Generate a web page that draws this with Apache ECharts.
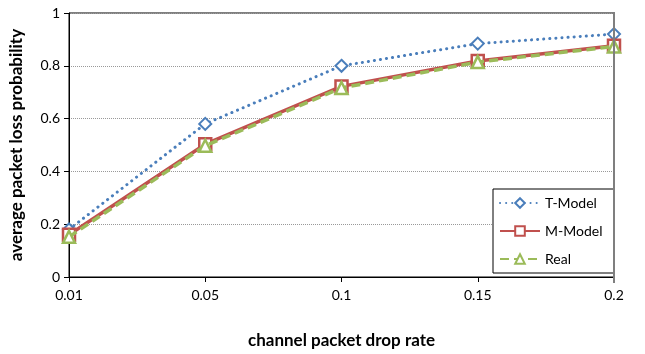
<!DOCTYPE html>
<html><head><meta charset="utf-8">
<script src="https://cdn.jsdelivr.net/npm/echarts@6/dist/echarts.min.js"></script>
<style>html,body{margin:0;padding:0;background:#fff}#c{width:645px;height:354px}</style>
</head><body><div id="c"></div>
<script>
const categories = ['0.01','0.05','0.1','0.15','0.2'];
const tModel = [0.18, 0.58, 0.80, 0.884, 0.92];
const mModel = [0.16, 0.503, 0.722, 0.818, 0.876];
const real   = [0.152, 0.497, 0.716, 0.814, 0.873];
const yTicks = [0, 0.2, 0.4, 0.6, 0.8, 1];

const font = 'Lato, "Open Sans", sans-serif';
const chart = echarts.init(document.getElementById('c'));
chart.setOption({
  animation: false,
  backgroundColor: '#fff',
  grid: {left: 67, right: 31, top: 13, bottom: 71, show: true, borderColor: '#000', borderWidth: 1},
  graphic: [{type: 'line', shape: {x1: 614, y1: 12, x2: 614, y2: 283}, style: {stroke: '#7f7f7f', lineWidth: 2}, z: 10}],
  legend: {
    orient: 'vertical', left: 493, top: 189,
    padding: [7, 12, 7, 6], itemGap: 14, itemWidth: 40, itemHeight: 12,
    borderColor: '#000', borderWidth: 1, backgroundColor: '#fff',
    textStyle: {fontFamily: font, fontSize: 14, color: '#000'},
    data: ['T-Model', 'M-Model', 'Real']
  },
  xAxis: {
    type: 'category', data: categories, boundaryGap: false,
    name: 'channel packet drop rate', nameLocation: 'middle', nameGap: 55,
    nameTextStyle: {fontFamily: font, fontSize: 17, fontWeight: 'bold', color: '#000'},
    axisLine: {lineStyle: {color: '#000', width: 1}},
    axisTick: {show: true, length: 5, lineStyle: {color: '#000'}},
    axisLabel: {fontFamily: font, fontSize: 14, color: '#000', margin: 11},
    splitLine: {show: false}
  },
  yAxis: {
    type: 'value', min: 0, max: 1, interval: 0.2,
    name: 'average packet loss probability', nameLocation: 'middle', nameGap: 44,
    nameTextStyle: {fontFamily: font, fontSize: 17, fontWeight: 'bold', color: '#000'},
    axisLine: {show: true, lineStyle: {color: '#000', width: 1}},
    axisTick: {show: true, length: 5, lineStyle: {color: '#000'}},
    axisLabel: {fontFamily: font, fontSize: 14, color: '#000', margin: 9,
      formatter: v => yTicks.includes(Math.round(v*10)/10) ? String(Math.round(v*10)/10) : ''},
    splitLine: {show: true, lineStyle: {color: '#999', type: 'dotted', width: 1}}
  },
  series: [
    {name: 'T-Model', type: 'line', data: tModel, symbol: 'diamond', symbolSize: 12,
     lineStyle: {color: '#4a7ebb', width: 3, type: [0.1, 6], cap: 'round'},
     itemStyle: {color: '#fff', borderColor: '#4a7ebb', borderWidth: 2}, z: 3},
    {name: 'M-Model', type: 'line', data: mModel, symbol: 'rect', symbolSize: 12,
     lineStyle: {color: '#c0504d', width: 3.5},
     itemStyle: {color: '#fff', borderColor: '#c0504d', borderWidth: 2.5}, z: 4},
    {name: 'Real', type: 'line', data: real, symbol: 'triangle', symbolSize: 12,
     lineStyle: {color: '#9bbb59', width: 3.5, type: [9, 5]},
     itemStyle: {color: '#fff', borderColor: '#9bbb59', borderWidth: 2.5}, z: 5}
  ]
});
</script></body></html>
